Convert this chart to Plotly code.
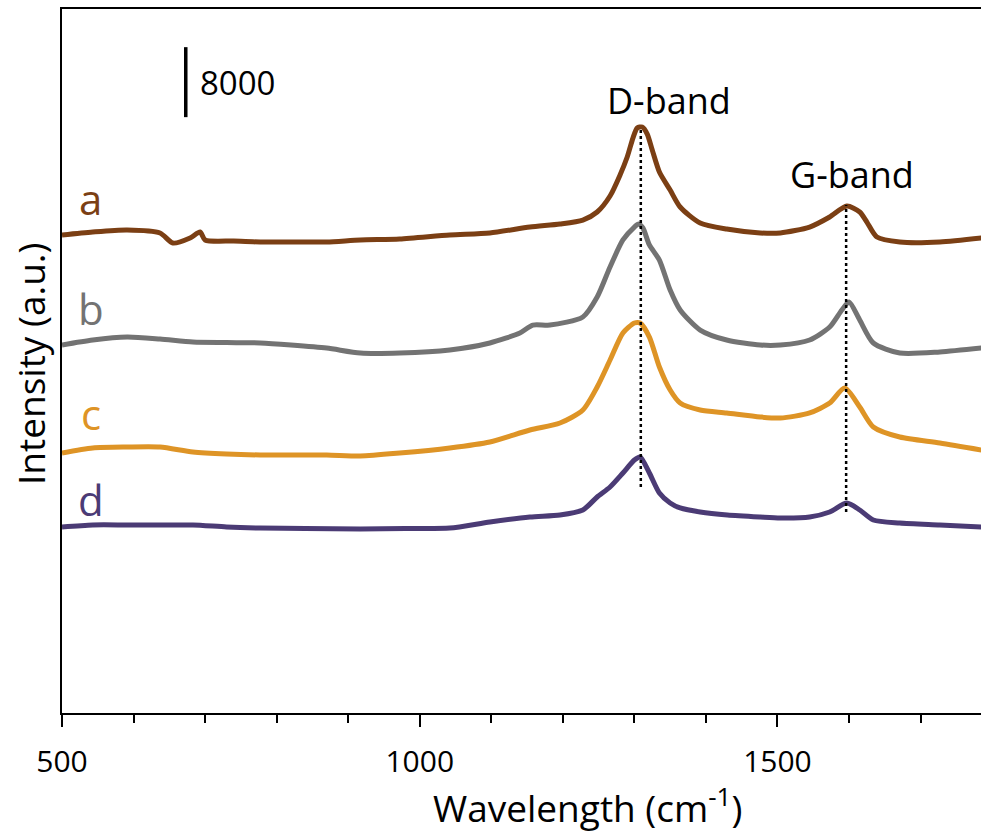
import plotly.graph_objects as go

# ---------------- data ----------------
wn_a = [500, 543, 591, 637, 655, 679, 693, 700, 740, 777, 820, 870, 917, 972, 1042, 1098, 1154, 1196,
        1228, 1248, 1266, 1280, 1290, 1298, 1304, 1311, 1318, 1325, 1335, 1350, 1364, 1392,
        1429, 1476, 1504, 1545, 1573, 1597, 1615, 1625, 1639, 1671, 1727, 1785]
int_a = [54630, 54970, 55200, 54860, 53710, 54290, 54970, 54060, 53940, 53830, 53830, 53830, 54060, 54170,
         54630, 54860, 55540, 55890, 56340, 57260, 59090, 61490, 63540, 65710, 66860, 66970,
         66170, 64340, 61830, 59770, 57830, 56000, 55310, 54860, 54860, 55540, 56690, 57940,
         57260, 56110, 54400, 53830, 53830, 54290]

wn_b = [500, 543, 591, 637, 683, 730, 777, 820, 870, 917, 972, 1042, 1098, 1140, 1158, 1182, 1228, 1248, 1266,
        1284, 1300, 1306, 1312, 1321, 1335, 1350, 1364, 1392, 1429, 1476, 1504, 1545, 1573, 1590,
        1600, 1615, 1634, 1671, 1727, 1785]
int_b = [42060, 42630, 42970, 42740, 42400, 42340, 42290, 42060, 41710, 41140, 41140, 41490, 42290, 43430, 44340,
         44340, 45260, 47540, 50970, 54060, 55540, 55890, 55430, 53490, 51770, 48340, 46060,
         43770, 42630, 42060, 42060, 42630, 44110, 46060, 46970, 44910, 42290, 41140, 41260, 41710]

wn_c = [500, 543, 591, 637, 683, 730, 777, 820, 870, 917, 972, 1042, 1098, 1154, 1196, 1228, 1248, 1266,
        1284, 1300, 1308, 1321, 1335, 1350, 1364, 1392, 1429, 1476, 1504, 1545, 1573, 1594, 1615,
        1634, 1671, 1727, 1785]
int_c = [29710, 30290, 30400, 30400, 29830, 29600, 29490, 29490, 29490, 29370, 29710, 30290, 30970, 32340,
         33140, 34630, 37260, 40340, 43430, 44570, 44570, 42970, 39540, 36910, 35430, 34630,
         34290, 33830, 33710, 34290, 35430, 37140, 34970, 32690, 31540, 30860, 30060]

wn_d = [500, 543, 591, 637, 683, 730, 777, 840, 917, 980, 1042, 1098, 1154, 1196, 1228, 1248, 1266, 1284, 1300, 1308,
        1321, 1335, 1350, 1364, 1392, 1430, 1476, 1504, 1545, 1573, 1597, 1615, 1634, 1671, 1727, 1785]
int_d = [21260, 21490, 21490, 21490, 21490, 21260, 21140, 21090, 21030, 21090, 21140, 21830, 22400, 22630, 23200,
         24690, 25830, 27430, 28910, 29260, 27430, 25140, 24000, 23430, 22970, 22630, 22400, 22290, 22400,
         22970, 24000, 23200, 22060, 21710, 21490, 21260]

series_names = ["a", "b", "c", "d"]
series_colors = ["#7B3F14", "#737373", "#DE9426", "#4B3B75"]

band_names = ["D-band", "G-band"]
band_pos = [1309, 1596]
band_top = [66860, 58060]
band_bottom = [25830, 22970]

scale_x = 673
scale_y0 = 68100
scale_len = 8000

x_range = [500, 1784.5]
y_range = [0, 80460]

# ---------------- figure ----------------
fig = go.Figure()

for wn, val, col in zip([wn_a, wn_b, wn_c, wn_d], [int_a, int_b, int_c, int_d], series_colors):
    fig.add_trace(go.Scatter(x=wn, y=val, mode="lines",
                             line=dict(color=col, width=5, shape="spline", smoothing=0.7),
                             showlegend=False, hoverinfo="skip"))

# dotted band markers
for pos, top, bot in zip(band_pos, band_top, band_bottom):
    fig.add_trace(go.Scatter(x=[pos, pos], y=[bot, top], mode="lines",
                             line=dict(color="black", width=2.5, dash="dot"),
                             showlegend=False, hoverinfo="skip"))

# scale bar
fig.add_trace(go.Scatter(x=[scale_x, scale_x], y=[scale_y0, scale_y0 + scale_len], mode="lines",
                         line=dict(color="black", width=3.5),
                         showlegend=False, hoverinfo="skip"))

FONT = "Open Sans"

annotations = []
annotations.append(dict(x=scale_x + 17, y=scale_y0 + scale_len / 2, xref="x", yref="y",
                        text=str(scale_len), showarrow=False, xanchor="left", yanchor="middle",
                        font=dict(family=FONT, size=33, color="black")))

band_label_y = [70060, 61600]
band_label_x = [1348, 1604]
for name, bx, by in zip(band_names, band_label_x, band_label_y):
    annotations.append(dict(x=bx, y=by, xref="x", yref="y", text=name, showarrow=False,
                            xanchor="center", yanchor="middle",
                            font=dict(family=FONT, size=36, color="black")))

label_y = [55260, 42800, 30800, 20970]
for name, ly, col in zip(series_names, label_y, series_colors):
    annotations.append(dict(x=540, y=ly, xref="x", yref="y", text=name, showarrow=False,
                            xanchor="center", yanchor="bottom",
                            font=dict(family=FONT, size=42, color=col)))

annotations.append(dict(x=(587 - 62) / 919, y=-0.131, xref="paper", yref="paper",
                        text="Wavelength (cm<sup>-1</sup>)", showarrow=False,
                        xanchor="center", yanchor="middle",
                        font=dict(family=FONT, size=37, color="black")))
annotations.append(dict(x=(30 - 62) / 919, y=(713 - 364) / 704, xref="paper", yref="paper",
                        text="Intensity (a.u.)", showarrow=False, textangle=-90,
                        xanchor="center", yanchor="middle",
                        font=dict(family=FONT, size=37, color="black")))

fig.update_layout(
    width=981, height=834,
    margin=dict(l=62, r=0, t=9, b=121),
    paper_bgcolor="white", plot_bgcolor="white",
    annotations=annotations,
    font=dict(family=FONT, color="black"),
)

fig.update_xaxes(range=x_range, showgrid=False, zeroline=False,
                 showline=True, linecolor="black", linewidth=2, mirror=True,
                 ticks="outside", ticklen=12, tickwidth=2, tickcolor="black",
                 tick0=500, dtick=500, ticklabelstandoff=9,
                 tickfont=dict(family=FONT, size=30, color="black"),
                 minor=dict(ticks="outside", ticklen=8, tickwidth=2, tickcolor="black",
                            dtick=100, tick0=500, showgrid=False))
fig.update_yaxes(range=y_range, showgrid=False, zeroline=False,
                 showline=True, linecolor="black", linewidth=2,
                 ticks="", showticklabels=False)

fig.write_html("out.html", config={"displayModeBar": False},
               post_script="document.body.style.margin='0px';document.body.style.overflow='hidden';")
